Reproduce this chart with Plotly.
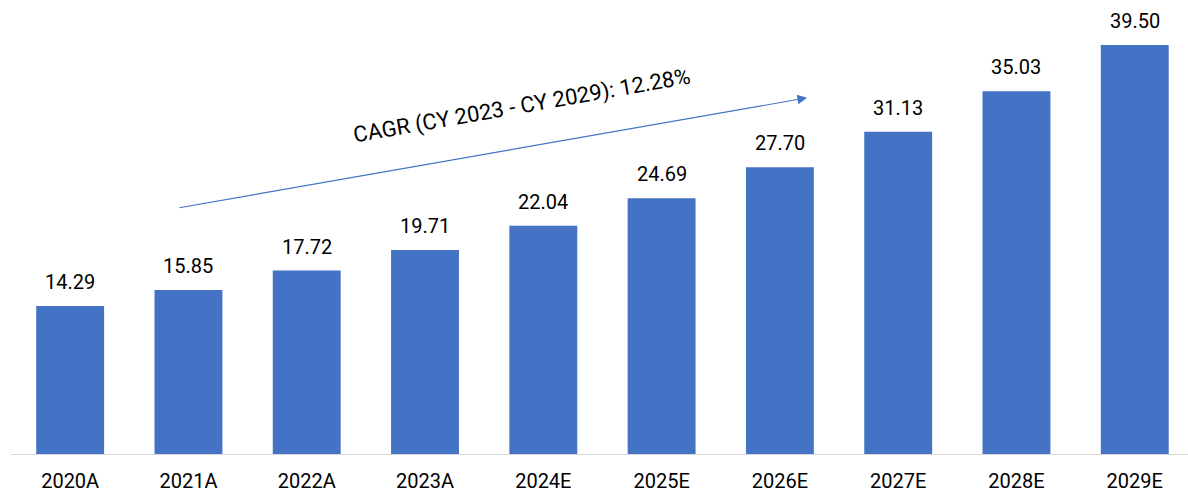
import plotly.graph_objs as go

years = ["2020A", "2021A", "2022A", "2023A", "2024E", "2025E", "2026E", "2027E", "2028E", "2029E"]
values = [14.29, 15.85, 17.72, 19.71, 22.04, 24.69, 27.70, 31.13, 35.03, 39.50]
cagr_text = "CAGR (CY 2023 - CY 2029): 12.28%"

bar_color = "#4472C4"

fig = go.Figure()
fig.add_trace(go.Bar(x=list(range(len(years))), y=values, marker_color=bar_color,
                     marker_line_width=0, hoverinfo="skip"))

# value labels above the bars
for i, v in enumerate(values):
    fig.add_annotation(x=i, y=v, text=f"{v:.2f}", showarrow=False, yanchor="bottom",
                       yshift=10, font=dict(family="Roboto", size=20, color="black"))

# CAGR arrow and text
fig.add_annotation(x=6.23, y=34.4, ax=0.91, ay=23.76, xref="x", yref="y", axref="x", ayref="y",
                   text="", showarrow=True, arrowhead=2, arrowsize=1.6, arrowwidth=1.2,
                   arrowcolor=bar_color)
fig.add_annotation(x=3.82, y=33.6, xref="x", yref="y", text=cagr_text, showarrow=False,
                   textangle=-10, font=dict(family="Roboto", size=22, color="black"))

fig.update_layout(
    width=1188, height=494,
    margin=dict(l=11, r=0, t=0, b=40),
    plot_bgcolor="white", paper_bgcolor="white",
    bargap=0.426, showlegend=False,
    xaxis=dict(tickmode="array", tickvals=list(range(len(years))), ticktext=years,
               range=[-0.5, 9.45], showline=True, linecolor="#D9D9D9", linewidth=1,
               showgrid=False, ticks="", ticklabelstandoff=9, automargin=False,
               tickfont=dict(family="Roboto", size=20, color="black")),
    yaxis=dict(range=[0, 43.85], visible=False, showgrid=False, zeroline=False,
               automargin=False),
)

fig.write_html("out.html", config={"displayModeBar": False},
               post_script="document.body.style.margin='0';")
